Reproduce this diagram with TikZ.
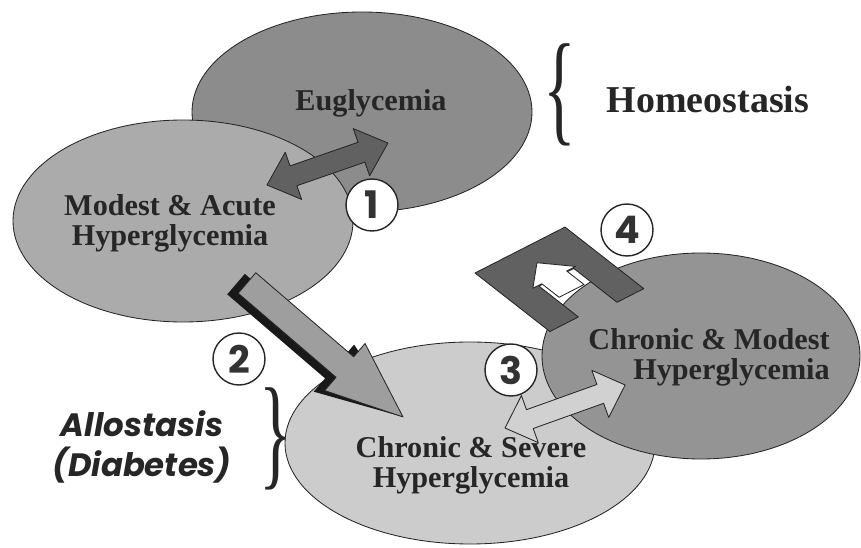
\documentclass[tikz,border=0pt]{standalone}
\usepackage{fontspec}
\setmainfont{Liberation Serif}
\newfontfamily\geofont{Poppins}
\usetikzlibrary{shapes.geometric}

\begin{document}
\begin{tikzpicture}[
  state/.style={ellipse, draw=black!85, line width=0.6pt, inner sep=0pt},
  statelabel/.style={font=\fontsize{21.5}{21.5}\selectfont\bfseries,
    align=center, inner sep=0pt, text=black!85},
  steplabel/.style={circle, draw=black!85, fill=white, line width=1pt,
    minimum size=1.3cm, inner sep=0pt,
    font=\geofont\fontsize{27}{27}\selectfont\bfseries, text=black!80},
  blockarrow/.style={draw=black!85, line width=0.6pt, line join=round},
  groupname/.style={inner sep=0pt, align=center, text=black!85},
  bracemark/.style={inner sep=0pt, font=\fontsize{88}{88}\selectfont, text=black!85},
]

% Paper
\fill[white] (0,0) rectangle (21.525,13.675);
\useasboundingbox (0,0) rectangle (21.525,13.675);

% Upper states
\node[state, fill=black!45, minimum width=8.5cm, minimum height=5cm] at (9.05,10.875) (eugly) {};
\node[statelabel, anchor=base] at (9.275,10.9) (euglytext) {Euglycemia};
\node[state, fill=black!33, minimum width=8.5cm, minimum height=5.05cm] at (4.575,8.15) (acute) {};
\node[statelabel] at (4.25,8.1) (acutetext) {Modest \& Acute\\Hyperglycemia};

% Step 1 (two-way)
\begin{scope}[shift={(6.675,9.05)}, rotate=19.14]
  \filldraw[blockarrow, fill=black!62] (0,0) -- (0.7,0.625) -- (0.7,0.2625) -- (2.5,0.2625)
    -- (2.5,0.625) -- (3.2,0) -- (2.5,-0.625) -- (2.5,-0.2625) -- (0.7,-0.2625) -- (0.7,-0.625) -- cycle;
\end{scope}
\node[steplabel] at (9.3,8.55) (one) {1};

% Lower states
\node[state, fill=black!20, minimum width=9.25cm, minimum height=5.05cm] at (11.75,2.6) (severe) {};
\node[statelabel] at (11.775,2.05) (severetext) {Chronic \& Severe\\Hyperglycemia};
\node[state, fill=black!42, minimum width=7.95cm, minimum height=5.15cm] at (17.525,4.775) (modest) {};
\node[statelabel, align=right, anchor=east] at (20.75,4.75) (modesttext) {Chronic \& Modest\\Hyperglycemia};

% Step 2 (with dark shadow)
\begin{scope}[shift={(6.175,6.6)}, rotate=-40.65]
  \fill[black!90] (-0.19,0.1375) -- (3.035,0.1375) -- (3.035,0.575) -- (5.14,0)
    -- (3.035,-0.975) -- (3.035,-0.5375) -- (-0.19,-0.5375) -- cycle;
  \filldraw[blockarrow, fill=black!38] (0,0.3375) -- (3.225,0.3375) -- (3.225,0.775) -- (5.14,0)
    -- (3.225,-0.775) -- (3.225,-0.3375) -- (0,-0.3375) -- cycle;
\end{scope}

% Step 3 (two-way)
\begin{scope}[shift={(12.625,2.975)}, rotate=19.7]
  \filldraw[blockarrow, fill=black!18] (0,0) -- (0.66,0.625) -- (0.66,0.25) -- (2.53,0.25)
    -- (2.53,0.625) -- (3.19,0) -- (2.53,-0.625) -- (2.53,-0.25) -- (0.66,-0.25) -- (0.66,-0.625) -- cycle;
\end{scope}

% Step 4 (u-turn)
\begin{scope}[shift={(11.875,6.85)}, x={(0.022275cm,0.011375cm)}, y={(0.0197cm,-0.0154cm)}]
  \filldraw[blockarrow, fill=black!62] (0,0) -- (101,0) -- (101,100) -- (71,100) -- (71,45)
    -- (32,45) -- (32,95) -- (0,95) -- cycle;
  \filldraw[blockarrow, fill=white] (36,66) -- (36,44) -- (26,44) -- (51,21) -- (74,44)
    -- (64,44) -- (64,66) -- cycle;
\end{scope}

% Step numbers
\node[steplabel] at (5.975,4.7) (two) {2};
\node[steplabel] at (12.775,4.425) (three) {3};
\node[steplabel] at (15.675,7.925) (four) {4};

% Group names
\node[bracemark] at (14.0,11.3) (homeobrace) {\scalebox{0.55}[1]{\{}};
\node[groupname, anchor=base, font=\fontsize{27}{27}\selectfont\bfseries] at (17.7,10.85) (homeo) {Homeostasis};
\node[bracemark] at (6.9,2.7) (allobrace) {\scalebox{0.55}[1]{\}}};
\node[groupname, font=\geofont\fontsize{23}{28}\selectfont\bfseries\itshape] at (3.55,2.5) (allo) {Allostasis\\(Diabetes)};

\end{tikzpicture}
\end{document}
